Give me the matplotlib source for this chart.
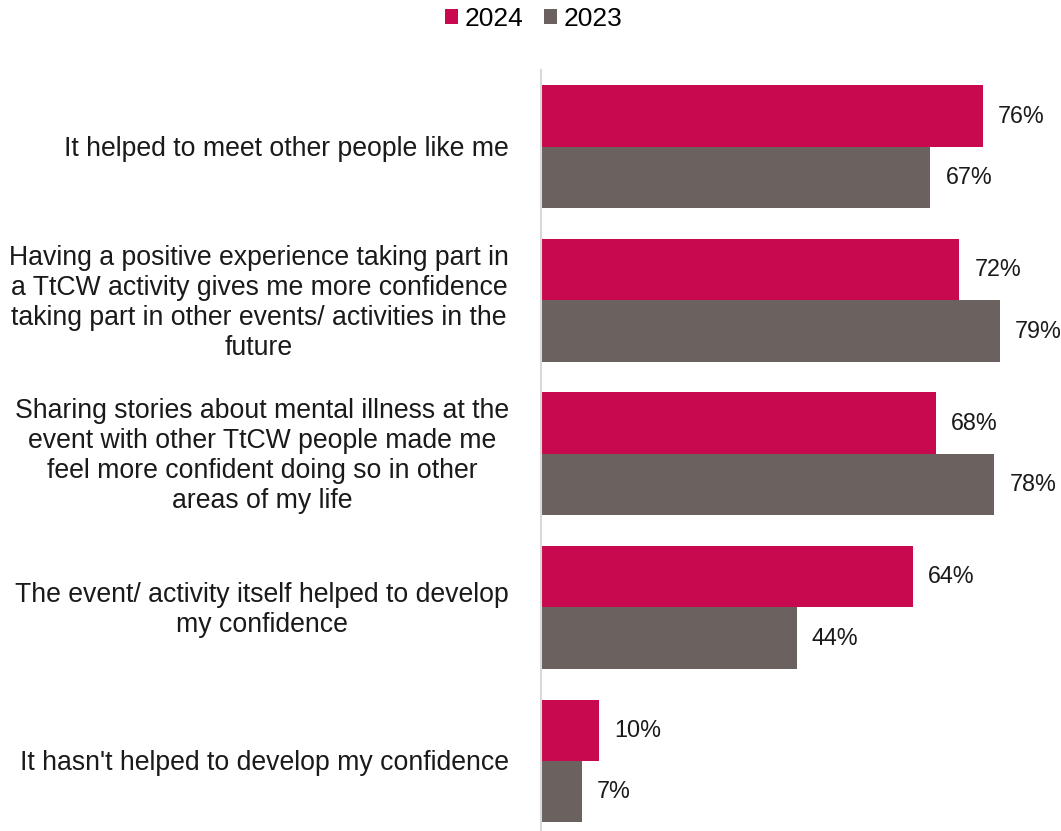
import matplotlib.pyplot as plt
import numpy as np

plt.rcParams['font.family'] = ['Liberation Sans', 'DejaVu Sans']

categories = [
    "It helped to meet other people like me",
    "Having a positive experience taking part in\na TtCW activity gives me more confidence\ntaking part in other events/ activities in the\nfuture",
    "Sharing stories about mental illness at the\nevent with other TtCW people made me\nfeel more confident doing so in other\nareas of my life",
    "The event/ activity itself helped to develop\nmy confidence",
    "It hasn't helped to develop my confidence",
]
vals_2024 = [76, 72, 68, 64, 10]
vals_2023 = [67, 79, 78, 44, 7]
series = ["2024", "2023"]
colors = ["#C8094F", "#6B6260"]

W, H = 1061, 831
fig = plt.figure(figsize=(W / 100, H / 100), dpi=100)
ax = fig.add_axes([541 / W, 0, 520 / W, 1 - 70 / H])

y = np.arange(len(categories))
bh = 0.4
bars_a = ax.barh(y - bh / 2, vals_2024, height=bh, color=colors[0], label=series[0])
bars_b = ax.barh(y + bh / 2, vals_2023, height=bh, color=colors[1], label=series[1])

for bars, vals in ((bars_a, vals_2024), (bars_b, vals_2023)):
    for b, v in zip(bars, vals):
        ax.text(v + 2.6, b.get_y() + b.get_height() / 2, f"{v}%",
                va='center', ha='left', fontsize=16.8, color='#1a1a1a')

ax.set_xlim(0, 89.5)
ax.set_ylim(4.456, -0.5)
ax.set_xticks([])
ax.set_yticks([])
for s in ('top', 'right', 'bottom'):
    ax.spines[s].set_visible(False)
ax.spines['left'].set_color('#d9d9d9')
ax.spines['left'].set_linewidth(1.5)

# category labels, centred block ending just left of the axis
for yi, lab in zip(y, categories):
    ax.text(-5.5, yi + 0.015, lab, transform=ax.transData, ha='right', va='center',
            multialignment='center', fontsize=19.2, color='#1a1a1a', linespacing=1.2)

fig.legend(handles=[bars_a, bars_b], labels=series, loc='upper center',
           bbox_to_anchor=(0.503, 1.02), ncol=2, frameon=False, fontsize=19,
           handlelength=0.5, handleheight=0.5, handletextpad=0.25, columnspacing=0.75)

fig.savefig("out.png", dpi=100)
